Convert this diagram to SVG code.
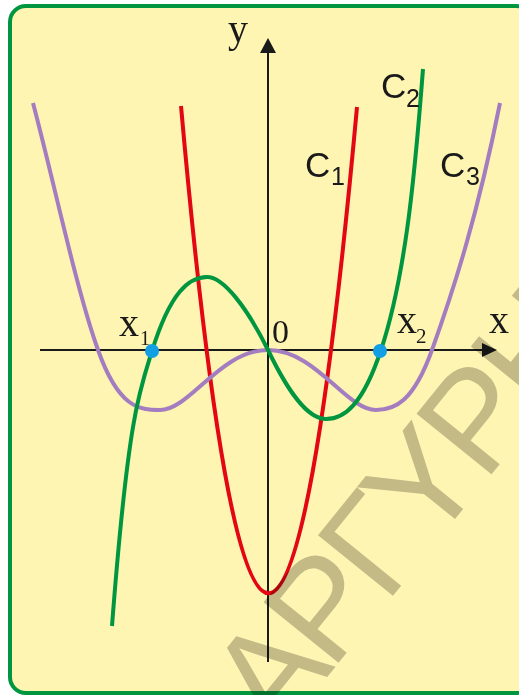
<svg xmlns="http://www.w3.org/2000/svg" width="519" height="695" viewBox="0 0 519 695">
  <style>
    .axis { stroke: #1a1a1a; stroke-width: 2; fill: none; }
    .curve { fill: none; stroke-width: 4; stroke-linecap: butt; stroke-linejoin: round; }
    .serif { font-family: "Liberation Serif", "Times New Roman", serif; fill: #1a1a1a; }
    .sans { font-family: "Liberation Sans", Arial, sans-serif; fill: #1a1a1a; }
    .wm { font-family: "Liberation Sans", Arial, sans-serif; fill: #c3c2bf; mix-blend-mode: multiply; letter-spacing: -7px; }
  </style>
  <g id="frame">
    <rect x="10" y="6" width="522" height="687" rx="16" ry="16" fill="#fff5b3" stroke="#00963f" stroke-width="4"/>
  </g>
  <g id="axes">
    <line class="axis" x1="40" y1="350" x2="485" y2="350"/>
    <polygon points="497,350 482,343 482,357" fill="#1a1a1a"/>
    <line class="axis" x1="268" y1="662" x2="268" y2="50"/>
    <polygon points="268,38 260,53 276,53" fill="#1a1a1a"/>
  </g>
  <g id="curves">
    <path id="C1" class="curve" stroke="#e30613" d="M181,106 Q268,1080 357,107"/>
    <path id="C3" class="curve" stroke="#a37dbf" d="M33,103 C54.7,185 76.3,289.3 98,350 C118.7,408 139.3,410 160,410 C190,410 220,350 268,350 C316,350 346,410 376,410 C394.7,410 413.3,402 432,350 C454.7,286.5 477.3,216 500,103"/>
    <path id="C2" class="curve" stroke="#00963f" d="M112,626 C119,535 126,469 133,427 C139.3,389 145.7,371.3 152,351 C170.3,292.3 188.7,277 207,277 C224,277 247.7,309 268,350 C287.3,390 306.7,419 326,419 C344.3,419 362.7,405 381,350 C389.7,324 398.3,291 407,230 C412.3,192.7 417.7,138.3 423,69"/>
  </g>
  <g id="points">
    <circle cx="152" cy="351" r="7" fill="#139fe3"/>
    <circle cx="380" cy="351" r="7" fill="#139fe3"/>
  </g>
  <g id="labels">
    <text class="serif" x="228" y="42" font-size="40">y</text>
    <text class="serif" x="489" y="333" font-size="40">x</text>
    <text class="serif" x="272" y="343" font-size="34">0</text>
    <text class="serif" x="119" y="336" font-size="40">x</text>
    <text class="serif" x="140" y="345" font-size="20">1</text>
    <text class="serif" x="397" y="333" font-size="40">x</text>
    <text class="serif" x="416" y="343" font-size="21">2</text>
    <text class="sans" x="305" y="177" font-size="35">C</text>
    <text class="sans" x="331" y="185" font-size="25">1</text>
    <text class="sans" x="381" y="98" font-size="35">C</text>
    <text class="sans" x="406" y="107" font-size="25">2</text>
    <text class="sans" x="440" y="177" font-size="35">C</text>
    <text class="sans" x="466" y="185" font-size="25">3</text>
  </g>
  <g id="watermark">
    <text class="wm" x="0" y="0" font-size="140" transform="translate(277,739) rotate(-51)">ΑΡΓΥΡΗ</text>
  </g>
</svg>
